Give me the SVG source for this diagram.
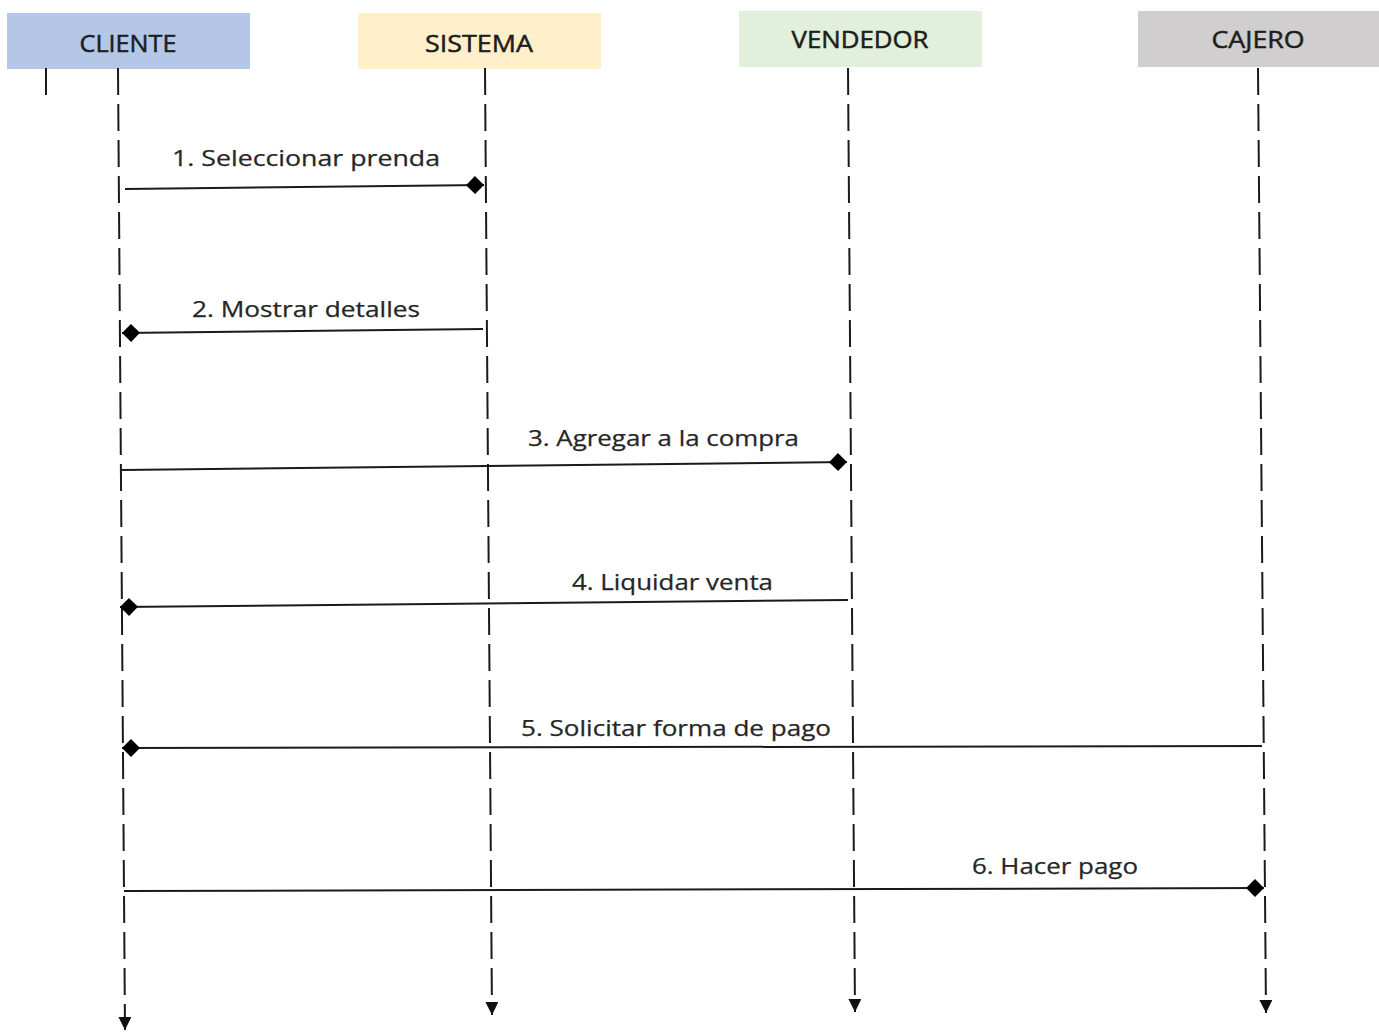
<svg xmlns="http://www.w3.org/2000/svg" width="1379" height="1032" viewBox="0 0 1379 1032">
  <defs>
    <style>
      .hdr-text { font-family: "Open Sans", "Liberation Sans", sans-serif; font-size: 24px; fill: #1e1e1e; stroke: #1e1e1e; stroke-width: 0.5; text-anchor: middle; }
      .msg-text { font-family: "Open Sans", "Liberation Sans", sans-serif; font-size: 22px; fill: #262626; stroke: #262626; stroke-width: 0.25; }
      .lifeline { stroke: #1a1a1a; stroke-width: 2; fill: none; stroke-dasharray: 27 9; }
      .msg { stroke: #1a1a1a; stroke-width: 2; fill: none; marker-end: url(#diamond); }
    </style>
    <marker id="diamond" viewBox="0 -5 10 10" refX="10" refY="0" markerUnits="userSpaceOnUse" markerWidth="18" markerHeight="19" orient="auto">
      <path d="M0,0 L5,-5 L10,0 L5,5 Z" fill="#000"/>
    </marker>
    <marker id="arrow" viewBox="0 -6 12 12" refX="12" refY="0" markerUnits="userSpaceOnUse" markerWidth="13" markerHeight="13" orient="auto">
      <path d="M0,-6 L12,0 L0,6 Z" fill="#111"/>
    </marker>
  </defs>
  <rect width="1379" height="1032" fill="#ffffff"/>

  <!-- participants -->
  <g id="cliente">
    <rect x="7" y="13" width="243" height="56" fill="#b4c7e7"/>
    <text class="hdr-text" x="128" y="52" textLength="97" lengthAdjust="spacingAndGlyphs">CLIENTE</text>
  </g>
  <g id="sistema">
    <rect x="358" y="13" width="243" height="56" fill="#fff0cb"/>
    <text class="hdr-text" x="479" y="52" textLength="108" lengthAdjust="spacingAndGlyphs">SISTEMA</text>
  </g>
  <g id="vendedor">
    <rect x="739" y="11" width="243" height="56" fill="#e2efda"/>
    <text class="hdr-text" x="860" y="48" textLength="137" lengthAdjust="spacingAndGlyphs">VENDEDOR</text>
  </g>
  <g id="cajero">
    <rect x="1138" y="11" width="241" height="56" fill="#d0cece"/>
    <text class="hdr-text" x="1258" y="48" textLength="93" lengthAdjust="spacingAndGlyphs">CAJERO</text>
  </g>

  <!-- lifelines -->
  <g id="lifelines">
    <line x1="46" y1="68" x2="46" y2="95" stroke="#1a1a1a" stroke-width="2"/>
    <line class="lifeline" x1="118" y1="68" x2="125" y2="1030" marker-end="url(#arrow)"/>
    <line class="lifeline" x1="485" y1="68" x2="492" y2="1015" marker-end="url(#arrow)"/>
    <line class="lifeline" x1="848" y1="68" x2="855" y2="1012" marker-end="url(#arrow)"/>
    <line class="lifeline" x1="1258" y1="68" x2="1266" y2="1013" marker-end="url(#arrow)"/>
  </g>

  <!-- messages -->
  <g id="connectors">
    <line class="msg" x1="125" y1="189" x2="484" y2="185"/>
    <line class="msg" x1="483" y1="329" x2="122" y2="333"/>
    <line class="msg" x1="122" y1="470" x2="847" y2="462"/>
    <line class="msg" x1="848" y1="600" x2="120" y2="607"/>
    <line class="msg" x1="1262" y1="746" x2="122" y2="748"/>
    <line class="msg" x1="124" y1="891" x2="1264" y2="888"/>
  </g>

  <g id="labels">
    <text class="msg-text" x="172" y="166" textLength="268" lengthAdjust="spacingAndGlyphs">1.  Seleccionar prenda</text>
    <text class="msg-text" x="192" y="317" textLength="228" lengthAdjust="spacingAndGlyphs">2. Mostrar detalles</text>
    <text class="msg-text" x="528" y="446" textLength="271" lengthAdjust="spacingAndGlyphs">3. Agregar a la compra</text>
    <text class="msg-text" x="572" y="590" textLength="201" lengthAdjust="spacingAndGlyphs">4. Liquidar venta</text>
    <text class="msg-text" x="521" y="736" textLength="310" lengthAdjust="spacingAndGlyphs">5. Solicitar forma de pago</text>
    <text class="msg-text" x="972" y="874" textLength="166" lengthAdjust="spacingAndGlyphs">6. Hacer pago</text>
  </g>
</svg>
